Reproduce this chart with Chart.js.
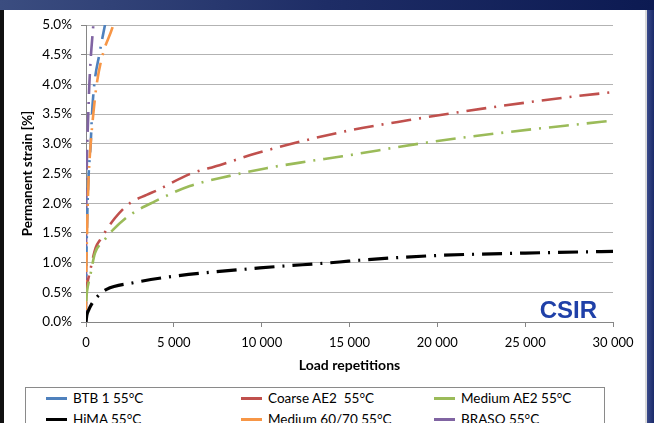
<!DOCTYPE html>
<html>
<head>
<meta charset="utf-8">
<script src="https://cdn.jsdelivr.net/npm/chart.js@4/dist/chart.umd.min.js"></script>
<style>
  html, body { margin:0; padding:0; }
  body { width:654px; height:423px; overflow:hidden; position:relative;
         background: linear-gradient(90deg, #3b4d80 0%, #1e2d66 50%, #0c1a52 100%); font-family: Lato, "Open Sans", sans-serif; }
  #panel { position:absolute; left:4px; top:10px; width:641px; height:413px; background:#fff; border-right:2px solid #d9d9d9; }
  #leftbar { position:absolute; left:0; top:10px; width:4px; height:413px; background:#111; }
  #rightbar { position:absolute; left:647px; top:10px; width:7px; height:413px; background: linear-gradient(90deg,#3a4a8a,#1a2a6a); }
  #wrap { position:absolute; left:0; top:0; width:654px; height:384px; }
  #legend { position:absolute; left:25px; top:387px; width:580px; height:60px; border:1px solid #8a8a8a; box-sizing:border-box; }
  .item { position:absolute; font-size:13.5px; color:#000; white-space:pre; line-height:14px; }
  .mk { position:absolute; width:21px; height:3px; }
</style>
</head>
<body>
<div id="leftbar"></div>
<div id="panel"></div>
<div id="rightbar"></div>
<div id="wrap"><canvas id="c" width="654" height="384"></canvas></div>
<div id="legend"></div>
<script>
// ---- data ----
const seriesNames = ["BTB 1 55°C", "Coarse AE2  55°C", "Medium AE2 55°C", "HiMA 55°C", "Medium 60/70 55°C", "BRASO 55°C"];
const seriesColors = ["#4F81BD", "#C0504D", "#9BBB59", "#000000", "#F79646", "#8064A2"];

const repsBTB    = [0, 5, 20, 50, 90, 153, 267, 341, 472, 756, 1080, 1300];
const strainBTB  = [0.3, 0.5, 1.0, 1.5, 2.0, 2.5, 3.0, 3.5, 4.0, 4.5, 5.0, 5.3];

const repsCoarse   = [10, 57, 227, 551, 800, 1650, 2500, 3450, 4000, 5900, 7600, 9700, 14430, 18400, 22770, 27300, 30000];
const strainCoarse = [0.45, 0.6, 0.85, 1.25, 1.38, 1.75, 2.0, 2.14, 2.21, 2.49, 2.64, 2.84, 3.19, 3.40, 3.60, 3.78, 3.87];

const repsMedium   = [10, 57, 227, 511, 966, 1534, 2500, 3920, 5909, 8182, 10270, 12540, 14600, 19150, 23520, 28070, 30000];
const strainMedium = [0.35, 0.51, 0.76, 1.16, 1.35, 1.55, 1.80, 2.03, 2.29, 2.46, 2.59, 2.70, 2.79, 3.01, 3.18, 3.33, 3.39];

const repsHiMA   = [0, 50, 150, 320, 690, 1170, 2680, 5000, 9890, 14430, 15570, 20000, 25000, 30000];
const strainHiMA = [0, 0.12, 0.2, 0.30, 0.44, 0.55, 0.66, 0.77, 0.91, 1.01, 1.04, 1.12, 1.16, 1.19];

const reps6070   = [0, 6, 25, 60, 100, 160, 267, 415, 608, 949, 1550, 1800];
const strain6070 = [0.2, 0.5, 1.0, 1.5, 2.0, 2.5, 3.0, 3.5, 4.0, 4.5, 5.0, 5.3];

const repsBRASO   = [0, 2, 5, 10, 20, 38, 74, 130, 190, 284, 415, 500];
const strainBRASO = [0, 0.5, 1.0, 1.5, 2.0, 2.5, 3.0, 3.5, 4.0, 4.5, 5.0, 5.4];

const yTicks = [0, 0.5, 1, 1.5, 2, 2.5, 3, 3.5, 4, 4.5, 5];
const xTicks = [0, 5000, 10000, 15000, 20000, 25000, 30000];

const allReps = [repsBTB, repsCoarse, repsMedium, repsHiMA, reps6070, repsBRASO];
const allStrain = [strainBTB, strainCoarse, strainMedium, strainHiMA, strain6070, strainBRASO];

function pts(xs, ys) { return xs.map((x, i) => ({x: x, y: ys[i]})); }

// draw order: HiMA, Medium, Coarse below; steep ones on top
const order = [3, 2, 1, 4, 0, 5];
const datasets = order.map(i => ({
  label: seriesNames[i],
  data: pts(allReps[i], allStrain[i]),
  borderColor: seriesColors[i],
  backgroundColor: seriesColors[i],
  borderWidth: i === 3 ? 3.2 : 2.6,
  borderDash: [20, 8, 2, 8],
  pointRadius: 0,
  cubicInterpolationMode: 'monotone',
  fill: false
}));

const csirPlugin = {
  id: 'csir',
  afterDraw(chart) {
    const {ctx, chartArea} = chart;
    ctx.save();
    ctx.font = 'bold 24px "Liberation Sans", Arial, sans-serif';
    ctx.fillStyle = '#1F40A8';
    ctx.textAlign = 'right';
    ctx.textBaseline = 'alphabetic';
    ctx.fillText('CSIR', chartArea.right - 16, chartArea.bottom - 4);
    ctx.restore();
  }
};

function fmtThousands(v) {
  return String(v).replace(/\B(?=(\d{3})+(?!\d))/g, ' ');
}

new Chart(document.getElementById('c'), {
  type: 'line',
  data: { datasets: datasets },
  options: {
    responsive: false,
    animation: false,
    layout: { padding: { top: 25, right: 41, left: 0, bottom: 0 } },
    plugins: { legend: { display: false }, tooltip: { enabled: false } },
    scales: {
      x: {
        type: 'linear', min: 0, max: 30000,
        afterBuildTicks: s => { s.ticks = xTicks.map(v => ({value: v})); },
        afterFit: s => { s.height = 62; },
        grid: { drawOnChartArea: false, drawTicks: true, tickLength: 5, tickColor: '#868686' },
        border: { color: '#868686', width: 1 },
        ticks: { color: '#000', font: { family: 'Lato', size: 13 }, padding: 8, maxRotation: 0,
                 callback: v => fmtThousands(v) },
        title: { display: true, text: 'Load repetitions', color: '#000',
                 font: { family: 'Lato', size: 14, weight: 'bold' }, padding: { top: 0, bottom: 10 } }
      },
      y: {
        type: 'linear', min: 0, max: 5,
        afterBuildTicks: s => { s.ticks = yTicks.map(v => ({value: v})); },
        afterFit: s => { s.width = 86; },
        grid: { color: '#b3b3b3', lineWidth: 1, drawTicks: true, tickLength: 5, tickColor: '#868686' },
        border: { color: '#868686', width: 1 },
        ticks: { color: '#000', font: { family: 'Lato', size: 13.5 }, padding: 9,
                 callback: v => v.toFixed(1) + '%' },
        title: { display: true, text: 'Permanent strain [%]', color: '#000',
                 font: { family: 'Lato', size: 13.5, weight: 'bold' }, padding: { top: 20, bottom: 0 } }
      }
    }
  },
  plugins: [csirPlugin]
});

// legend (HTML), built from the series arrays
const legend = document.getElementById('legend');
const colX = [20, 215, 408];   // relative to legend box
const rowY = [10, 31];
const legendOrder = [0, 1, 2, 3, 4, 5];
legendOrder.forEach((i, k) => {
  const col = k % 3, row = Math.floor(k / 3);
  const mk = document.createElement('div');
  mk.className = 'mk';
  mk.style.left = colX[col] + 'px';
  mk.style.top = (rowY[row] - 1) + 'px';
  mk.style.background = seriesColors[i];
  legend.appendChild(mk);
  const t = document.createElement('div');
  t.className = 'item';
  t.style.left = (colX[col] + 27) + 'px';
  t.style.top = (rowY[row] - 7) + 'px';
  t.textContent = seriesNames[i];
  legend.appendChild(t);
});
</script>
</body>
</html>
